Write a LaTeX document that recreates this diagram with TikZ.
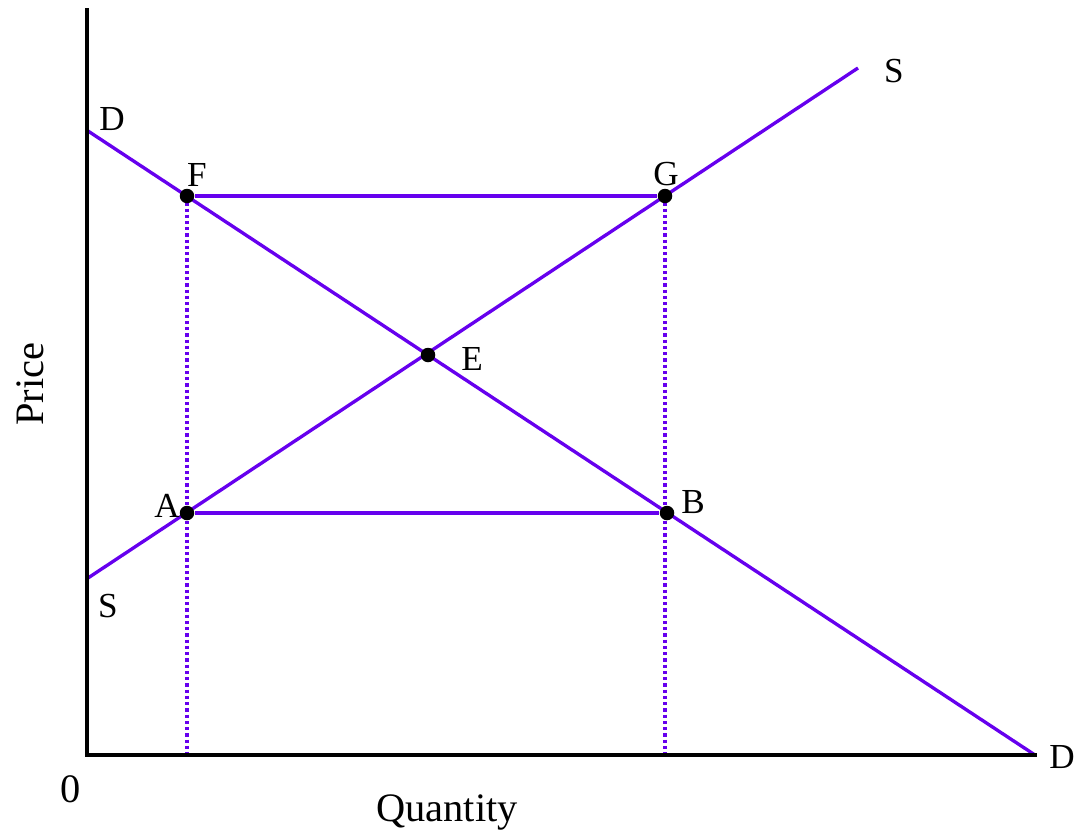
\documentclass[tikz,border=0pt]{standalone}
\usepackage{fontspec}
\setmainfont{Liberation Serif}
\usetikzlibrary{backgrounds}
\definecolor{curve}{RGB}{102,0,238}

\begin{document}
\begin{tikzpicture}[x=0.02cm,y=-0.02cm,every node/.style={inner sep=0pt,font=\fontsize{20}{24}\selectfont}]
\tikzset{
  axisline/.style={black,line width=2.4pt},
  curveline/.style={curve,line width=1.9pt},
  guideline/.style={curve,line width=2.2pt,dash pattern=on 0.065cm off 0.06cm},
  dot/.style={circle,fill=black,minimum size=0.29cm},
  lbl/.style={anchor=base},
  axislbl/.style={anchor=base,font=\fontsize{23}{28}\selectfont}
}
\useasboundingbox (0,0) rectangle (1074,835);
% axes
\coordinate (top) at (87,8);
\coordinate (origin) at (87,755);
\coordinate (right) at (1037,755);
\draw[axisline] (top) -- (origin) -- (right);
% curve ends
\coordinate (dtop) at (88,131);
\coordinate (dbot) at (1035,755);
\coordinate (sbot) at (88,578);
\coordinate (stop) at (858,68);
% points
\node[dot] (F) at (187,196) {};
\node[dot] (G) at (665,196) {};
\node[dot] (E) at (428,355) {};
\node[dot] (A) at (187,513) {};
\node[dot] (B) at (667,513) {};
\begin{pgfonlayer}{background}
\draw[curveline] (dtop) -- (dbot);
\draw[curveline] (sbot) -- (stop);
\draw[curveline] (F) -- (G);
\draw[curveline] (A) -- (B);
\draw[guideline] (F.center) -- (F |- origin);
\draw[guideline] (G.center) -- (G |- origin);
\end{pgfonlayer}
% labels
\node[lbl] (lblD1) at (112,130) {D};
\node[lbl] (lblD2) at (1062,768) {D};
\node[lbl] (lblS1) at (894,82) {S};
\node[lbl] (lblS2) at (108,617) {S};
\node[lbl] (lblF) at (197,186) {F};
\node[lbl] (lblG) at (666,185) {G};
\node[lbl] (lblE) at (472,370) {E};
\node[lbl] (lblA) at (167,517) {A};
\node[lbl] (lblB) at (693,513) {B};
\node[axislbl] (zero) at (71,802) {0};
\node[axislbl] (qty) at (447,821) {Quantity};
\node[axislbl,rotate=90] (price) at (43,384) {Price};
\end{tikzpicture}
\end{document}
